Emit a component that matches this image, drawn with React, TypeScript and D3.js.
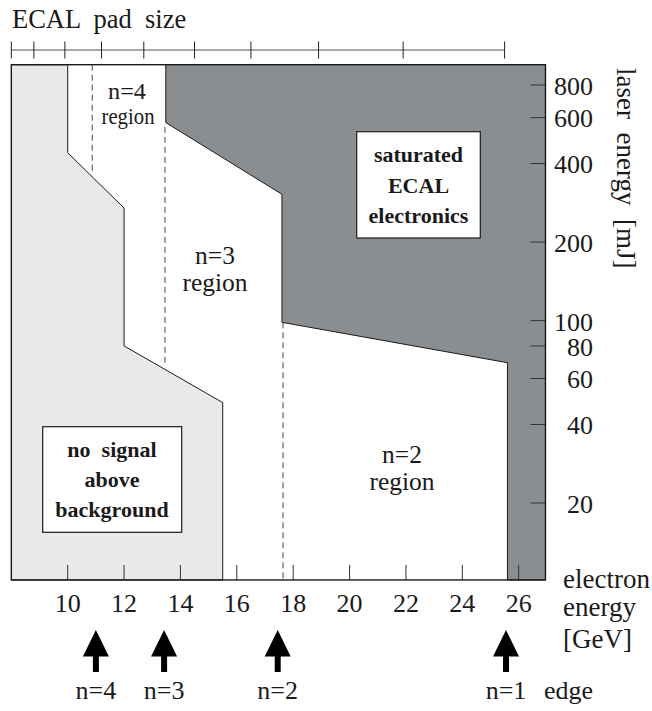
import { line, scaleLinear, scaleLog } from "d3";
import React from "react";

// electron energy [GeV] vs laser energy [mJ], regions
const E_MIN = 8;
const E_MAX = 26.95;
const L_MIN = 10.14;
const L_MAX = 957;

const xTicks = [10, 12, 14, 16, 18, 20, 22, 24, 26];
const yTicks = [20, 40, 60, 80, 100, 200, 400, 600, 800];
const padEdges = [8.0, 8.8, 9.9, 11.2, 12.7, 14.5, 16.5, 18.9, 21.9, 25.5];

// right edge of the "no signal" region, top to bottom
const noSignalE = [10, 10, 12, 12, 15.5, 15.5];
const noSignalL = [L_MAX, 440, 270, 80, 48.5, L_MIN];

// lower-left edge of the saturated region, top to bottom
const satE = [13.48, 13.48, 17.6, 17.6, 25.6, 25.6];
const satL = [L_MAX, 574, 305, 98.5, 69, L_MIN];

// dashed region borders
const dashE = [10.87, 13.45, 17.64];
const dashTop = [L_MAX, 553, 98.5];
const dashBottom = [368, 67.6, L_MIN];

// arrows under the axis
const arrowE = [11.0, 13.42, 17.45, 25.55];
const arrowLabels = ["n=4", "n=3", "n=2", "n=1"];

const FONT = "'Liberation Serif', 'Times New Roman', serif";
const INK = "#1a1a1a";

const x = scaleLinear().domain([10, 26]).range([67.7, 518.7]);
const y = scaleLog().domain([20, 800]).range([503, 85]);

const path = line<[number, number]>()
	.x((d) => x(d[0]))
	.y((d) => y(d[1]));

const zip = (a: number[], b: number[]) =>
	a.map((v, i) => [v, b[i]] as [number, number]);

const Arrow = ({ cx }: { cx: number }) => (
	<g transform={`translate(${cx}, 0)`}>
		<polygon points="0,630 -13,656.5 13,656.5" fill="#000" />
		<rect x={-3} y={655} width={6} height={17} fill="#000" />
	</g>
);

const App = () => {
	const left = x(E_MIN);
	const right = x(E_MAX);
	const top = y(L_MAX);
	const bottom = y(L_MIN);

	const noSignal = [
		[E_MIN, L_MAX] as [number, number],
		...zip(noSignalE, noSignalL),
		[E_MIN, L_MIN] as [number, number],
	];
	const saturated = [
		...zip(satE, satL),
		[E_MAX, L_MIN] as [number, number],
		[E_MAX, L_MAX] as [number, number],
	];

	return (
		<svg
			width={652}
			height={711}
			style={{ position: "absolute", left: 0, top: 0, background: "#fff" }}
			fontFamily={FONT}>
			{/* top axis: ECAL pad size */}
			<text x={12} y={28} fontSize={26.5} fill={INK} style={{ whiteSpace: "pre" }}>
				ECAL  pad  size
			</text>
			<line
				x1={x(padEdges[0])}
				x2={x(padEdges[padEdges.length - 1])}
				y1={50}
				y2={50}
				stroke="#555"
				strokeWidth={1.2}
			/>
			{padEdges.map((e, i) => (
				<line key={i} x1={x(e)} x2={x(e)} y1={41.5} y2={58.5} stroke="#222" strokeWidth={1} />
			))}

			{/* regions */}
			<rect x={left} y={top} width={right - left} height={bottom - top} fill="#fff" />
			<path d={path(noSignal) || ""} fill="#e8e9eb" stroke={INK} strokeWidth={1} />
			<path d={path(saturated) || ""} fill="#8b8e91" stroke={INK} strokeWidth={1} />

			{dashE.map((e, i) => (
				<line
					key={i}
					x1={x(e)}
					x2={x(e)}
					y1={y(dashTop[i])}
					y2={y(dashBottom[i])}
					stroke="#444"
					strokeWidth={1}
					strokeDasharray="6,4"
				/>
			))}

			{/* inner ticks */}
			{xTicks.map((t) => (
				<line key={t} x1={x(t)} x2={x(t)} y1={bottom} y2={bottom - 15} stroke="#333" strokeWidth={1} />
			))}
			{yTicks.map((t) => (
				<line key={t} x1={right} x2={right - 15} y1={y(t)} y2={y(t)} stroke="#333" strokeWidth={1} />
			))}

			<rect
				x={left}
				y={top}
				width={right - left}
				height={bottom - top}
				fill="none"
				stroke={INK}
				strokeWidth={1.4}
			/>

			{/* tick labels */}
			{xTicks.map((t) => (
				<text key={t} x={x(t)} y={612} fontSize={26} textAnchor="middle" fill={INK}>
					{t}
				</text>
			))}
			{yTicks.map((t) => (
				<text key={t} x={593} y={y(t)} dy="0.38em" fontSize={26} textAnchor="end" fill={INK}>
					{t}
				</text>
			))}

			{/* axis titles */}
			<text
				transform="translate(617, 68) rotate(90)"
				fontSize={27}
				fill={INK}
				style={{ whiteSpace: "pre" }}>
				laser  energy  [mJ]
			</text>
			<g fontSize={27} fill={INK}>
				<text x={563} y={588}>electron</text>
				<text x={563} y={616}>energy</text>
				<text x={563} y={648}>[GeV]</text>
			</g>

			{/* region labels */}
			<g fill={INK} textAnchor="middle">
				<text x={127} y={99} fontSize={24} textLength={38} lengthAdjust="spacingAndGlyphs">
					n=4
				</text>
				<text x={128} y={124} fontSize={24} textLength={53} lengthAdjust="spacingAndGlyphs">
					region
				</text>
				<text x={215} y={264} fontSize={25.5}>n=3</text>
				<text x={215} y={291} fontSize={25.5}>region</text>
				<text x={402} y={463} fontSize={25.5}>n=2</text>
				<text x={402} y={490} fontSize={25.5}>region</text>
			</g>

			{/* boxed notes */}
			<rect x={356.7} y={131.7} width={123.6} height={106.3} fill="#fff" stroke={INK} strokeWidth={1.2} />
			<g fontSize={22} fontWeight="bold" fill={INK} textAnchor="middle">
				<text x={418.5} y={162}>saturated</text>
				<text x={418.5} y={193}>ECAL</text>
				<text x={418.5} y={223}>electronics</text>
			</g>
			<rect x={42.7} y={426.7} width={139} height={105.6} fill="#fff" stroke={INK} strokeWidth={1.2} />
			<g fontSize={22} fontWeight="bold" fill={INK} textAnchor="middle">
				<text x={112} y={457} style={{ whiteSpace: "pre" }}>
					no  signal
				</text>
				<text x={112} y={487}>above</text>
				<text x={112} y={517}>background</text>
			</g>

			{/* arrows */}
			{arrowE.map((e, i) => (
				<g key={i}>
					<Arrow cx={x(e)} />
					<text x={x(e)} y={699} fontSize={26} textAnchor="middle" fill={INK}>
						{arrowLabels[i]}
					</text>
				</g>
			))}
			<text x={544} y={699} fontSize={26} fill={INK}>
				edge
			</text>
		</svg>
	);
};

export default App;
